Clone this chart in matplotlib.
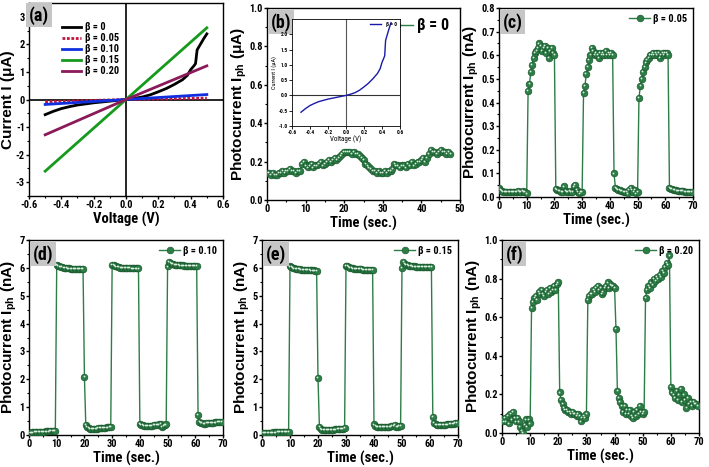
import numpy as np
import matplotlib
matplotlib.use('Agg')
import matplotlib.pyplot as plt
from matplotlib import font_manager
from matplotlib.transforms import offset_copy
from matplotlib.ticker import AutoMinorLocator

# the source figure uses a narrow bold sans; pick one if installed
names = {f.name for f in font_manager.fontManager.ttflist}
stretched = {f.name for f in font_manager.fontManager.ttflist
             if str(f.stretch) in ('condensed', 'semi-condensed', '75', '87')}
if 'Liberation Sans Narrow' in names:
    HFONT, STRETCH = 'Liberation Sans Narrow', 'normal'
elif 'Roboto Condensed' in names:
    HFONT, STRETCH = 'Roboto Condensed', 'normal'
elif 'DejaVu Sans' in stretched:
    HFONT, STRETCH = 'DejaVu Sans', 'condensed'
else:
    HFONT, STRETCH = 'Liberation Sans', 'normal'
NARROW = [HFONT, 'Liberation Sans', 'DejaVu Sans']
REG = ['Liberation Sans', 'DejaVu Sans']

plt.rcParams['font.family'] = NARROW
plt.rcParams['font.stretch'] = STRETCH
plt.rcParams['font.weight'] = 'bold'
plt.rcParams['axes.unicode_minus'] = False
plt.rcParams['mathtext.fontset'] = 'custom'
plt.rcParams['mathtext.rm'] = 'Liberation Sans:bold'
plt.rcParams['mathtext.bf'] = 'Liberation Sans:bold'
plt.rcParams['mathtext.default'] = 'bf'

# ---- (a) I-V curves ----
v_lin = [-0.5, 0.0, 0.5]
i_005 = [-0.08, 0.0, 0.05]
i_010 = [-0.18, 0.0, 0.18]
i_015 = [-2.6, 0.0, 2.6]
i_020 = [-1.28, 0.0, 1.22]

v_b0 = [-0.5, -0.45, -0.4, -0.35, -0.3, -0.25, -0.2, -0.15, -0.1, -0.05, 0.0,
        0.05, 0.1, 0.15, 0.2, 0.25, 0.3, 0.35, 0.38, 0.4, 0.42, 0.43, 0.44,
        0.46, 0.48, 0.5]
i_b0 = [-0.55, -0.43, -0.33, -0.26, -0.2, -0.16, -0.12, -0.09, -0.06, -0.03, 0.0,
        0.04, 0.09, 0.17, 0.28, 0.4, 0.55, 0.72, 0.88, 1.08, 1.22, 1.3, 1.8,
        2.0, 2.2, 2.38]

# ---- (b) beta = 0, sampled every 0.5 s ----
ph_b0 = [0.14, 0.14, 0.13, 0.14, 0.13, 0.13, 0.14, 0.14, 0.15, 0.14,
         0.15, 0.15, 0.16, 0.15, 0.15, 0.14, 0.15, 0.15,
         0.19, 0.2, 0.18, 0.17, 0.18, 0.19, 0.17, 0.18, 0.18, 0.19,
         0.2, 0.18, 0.19, 0.2, 0.21, 0.2, 0.21, 0.22, 0.21, 0.22,
         0.23, 0.24, 0.25, 0.25, 0.25, 0.25, 0.24, 0.25, 0.24, 0.24,
         0.23, 0.22, 0.21, 0.19, 0.18, 0.17, 0.16, 0.15, 0.15, 0.14,
         0.15, 0.14, 0.14, 0.15, 0.14, 0.15, 0.15, 0.16, 0.19, 0.18,
         0.18, 0.17, 0.18, 0.18, 0.17, 0.19, 0.18, 0.2, 0.18, 0.19,
         0.2, 0.2, 0.21, 0.22, 0.2, 0.22, 0.24, 0.26, 0.25, 0.25,
         0.24, 0.25, 0.26, 0.25, 0.25, 0.24, 0.25, 0.24]

# ---- (c)-(f) on/off cycles, sampled every 0.5 s from 0 to 69.5 s ----
ph_c = [0.04, 0.03, 0.025, 0.02, 0.02, 0.02, 0.02, 0.02, 0.02, 0.02,
        0.02, 0.02, 0.02, 0.02, 0.025, 0.02, 0.02, 0.025, 0.02, 0.02,
        0.015, 0.45, 0.48, 0.53, 0.56, 0.59, 0.61, 0.62, 0.63, 0.65,
        0.64, 0.62, 0.63, 0.64, 0.61, 0.63, 0.59, 0.62, 0.63, 0.61,
        0.6, 0.035, 0.03, 0.028, 0.025, 0.022, 0.02, 0.045, 0.025, 0.02,
        0.02, 0.025, 0.02, 0.02, 0.045, 0.05, 0.03, 0.02, 0.015, 0.02,
        0.02, 0.44, 0.47, 0.52, 0.55, 0.58, 0.6, 0.63, 0.62, 0.6,
        0.61, 0.6, 0.59, 0.61, 0.6, 0.61, 0.6, 0.62, 0.6, 0.61,
        0.6, 0.61, 0.6, 0.1, 0.04, 0.035, 0.03, 0.03, 0.025, 0.025,
        0.02, 0.02, 0.02, 0.015, 0.03, 0.04, 0.03, 0.02, 0.03, 0.015,
        0.02, 0.42, 0.47, 0.5, 0.53, 0.55, 0.57, 0.58, 0.59, 0.6,
        0.6, 0.61, 0.6, 0.61, 0.6, 0.61, 0.59, 0.6, 0.61, 0.6,
        0.61, 0.61, 0.6, 0.04, 0.035, 0.033, 0.03, 0.03, 0.028, 0.027,
        0.026, 0.025, 0.025, 0.024, 0.023, 0.022, 0.022, 0.021, 0.02, 0.02]

ph_d = [0.08, 0.08, 0.09, 0.09, 0.1, 0.1, 0.1, 0.11, 0.11, 0.12,
        0.12, 0.12, 0.13, 0.13, 0.13, 0.14, 0.14, 0.15, 0.15, 0.15,
        6.1, 6.08, 6.05, 6.03, 6.02, 6.0, 6.0, 5.99, 5.98, 5.98,
        5.97, 5.97, 5.96, 5.96, 5.96, 5.95, 5.95, 5.95, 5.95, 5.95,
        2.08, 0.35, 0.28, 0.25, 0.23, 0.22, 0.22, 0.22, 0.23, 0.23,
        0.24, 0.24, 0.25, 0.25, 0.26, 0.26, 0.27, 0.27, 0.28, 0.28,
        6.12, 6.1, 6.08, 6.05, 6.03, 6.02, 6.01, 6.0, 6.0, 6.0,
        6.0, 5.99, 5.99, 5.99, 5.98, 5.98, 5.98, 5.98, 5.98, 5.98,
        0.4, 0.37, 0.35, 0.34, 0.33, 0.33, 0.33, 0.34, 0.34, 0.34,
        0.35, 0.35, 0.36, 0.37, 0.38, 0.4, 0.3, 0.32, 0.36, 0.38,
        6.05, 6.22, 6.18, 6.15, 6.13, 6.12, 6.11, 6.1, 6.1, 6.09,
        6.09, 6.09, 6.08, 6.08, 6.08, 6.08, 6.07, 6.07, 6.07, 6.07,
        6.07, 6.07, 0.72, 0.48, 0.44, 0.42, 0.41, 0.41, 0.42, 0.42,
        0.43, 0.43, 0.44, 0.44, 0.45, 0.45, 0.46, 0.47, 0.47, 0.48]

ph_e = [0.06, 0.06, 0.07, 0.07, 0.07, 0.08, 0.08, 0.08, 0.09, 0.09,
        0.09, 0.1, 0.1, 0.1, 0.1, 0.11, 0.11, 0.11, 0.12, 0.12,
        6.05, 6.03, 6.0, 5.98, 5.97, 5.96, 5.95, 5.95, 5.94, 5.94,
        5.93, 5.93, 5.92, 5.92, 5.92, 5.91, 5.91, 5.91, 5.9, 5.9,
        2.05, 0.3, 0.22, 0.18, 0.17, 0.17, 0.17, 0.17, 0.18, 0.18,
        0.19, 0.19, 0.2, 0.2, 0.21, 0.21, 0.22, 0.22, 0.23, 0.24,
        6.08, 6.06, 6.03, 6.0, 5.99, 5.98, 5.97, 5.96, 5.96, 5.95,
        5.95, 5.95, 5.94, 5.94, 5.94, 5.94, 5.93, 5.93, 5.93, 5.93,
        0.38, 0.33, 0.3, 0.29, 0.28, 0.28, 0.28, 0.29, 0.29, 0.29,
        0.3, 0.3, 0.31, 0.32, 0.33, 0.35, 0.28, 0.3, 0.32, 0.34,
        6.0, 6.2, 6.15, 6.12, 6.1, 6.08, 6.07, 6.06, 6.05, 6.05,
        6.04, 6.04, 6.03, 6.03, 6.03, 6.02, 6.02, 6.02, 6.02, 6.02,
        6.02, 6.02, 0.66, 0.42, 0.38, 0.36, 0.35, 0.35, 0.36, 0.36,
        0.37, 0.37, 0.38, 0.38, 0.39, 0.4, 0.4, 0.41, 0.42, 0.42]

ph_f = [0.07, 0.06, 0.08, 0.06, 0.09, 0.05, 0.1, 0.07, 0.11, 0.08,
        0.06, 0.08, 0.06, 0.03, 0.01, 0.0, 0.04, 0.07, 0.03, 0.07,
        0.05, 0.65, 0.68, 0.7, 0.71, 0.69, 0.73, 0.72, 0.74, 0.72,
        0.71, 0.73, 0.74, 0.72, 0.75, 0.73, 0.74, 0.76, 0.74, 0.77,
        0.78, 0.21, 0.17, 0.15, 0.13, 0.12, 0.12, 0.11, 0.11, 0.1,
        0.11, 0.1, 0.1, 0.09, 0.1, 0.09, 0.06, 0.08, 0.09, 0.08,
        0.1, 0.69, 0.71, 0.72, 0.72, 0.74, 0.73, 0.75, 0.76, 0.74,
        0.75, 0.72, 0.73, 0.75, 0.76, 0.78, 0.75, 0.77, 0.76, 0.76,
        0.75, 0.54, 0.22, 0.18, 0.16, 0.14, 0.11, 0.14, 0.1, 0.12,
        0.1, 0.12, 0.09, 0.08, 0.11, 0.09, 0.12, 0.1, 0.14, 0.11,
        0.1, 0.11, 0.7, 0.74, 0.76, 0.75, 0.78, 0.77, 0.8, 0.79,
        0.81, 0.8, 0.82, 0.81, 0.84, 0.83, 0.86, 0.88, 0.87, 0.92,
        0.24, 0.21, 0.2, 0.18, 0.22, 0.17, 0.2, 0.23, 0.16, 0.2,
        0.17, 0.13, 0.18, 0.15, 0.16, 0.14, 0.16, 0.15, 0.15, 0.14]

dt = 0.5
GREEN = '#2d7d47'
DARK = '#1b5a2e'
LIGHT = '#d8eedf'

W, H = 709, 467
fig = plt.figure(figsize=(W / 100, H / 100), dpi=100)


def box(l, r, t, b):
    return [l / W, 1 - b / H, (r - l) / W, (b - t) / H]


def style(ax, xlab, ylab, ysize=11):
    hpx = ax.get_position().height * H
    for s in ax.spines.values():
        s.set_linewidth(1.0)
    ax.xaxis.set_minor_locator(AutoMinorLocator(2))
    ax.yaxis.set_minor_locator(AutoMinorLocator(2))
    ax.tick_params(which='major', direction='out', length=2.2, width=1,
                   labelsize=7.5, pad=0.8)
    ax.tick_params(which='minor', direction='out', length=1.4, width=0.8)
    for lab in ax.get_xticklabels() + ax.get_yticklabels():
        lab.set_fontweight('bold')
    ax.set_xlabel(xlab, fontsize=10.5, fontweight='bold')
    ax.xaxis.set_label_coords(0.5, -16 / hpx)
    ax.set_ylabel(ylab, fontsize=ysize, fontweight='bold', family=REG,
                  stretch='normal', labelpad=0.5)


def tag(ax, s, x=0.02, y=0.975):
    ax.text(x, y, s, transform=ax.transAxes, ha='left', va='top',
            fontsize=13, fontweight='bold',
            bbox=dict(boxstyle='square,pad=0.15', fc='#c6c6c6', ec='none'))


def photo(ax, vals, label, big=False):
    t = dt * np.arange(len(vals))
    ax.plot(t, vals, '-', color=GREEN, lw=1.0, marker='o', ms=4.8,
            mfc=GREEN, mec=DARK, mew=0.5, label=label, zorder=3)
    hl = offset_copy(ax.transData, fig=fig, x=-0.6, y=0.6, units='points')
    ax.plot(t, vals, 'o', ms=1.3, color=LIGHT, mew=0, zorder=4, transform=hl)
    size = 11.5 if big else 7.5
    ax.legend(loc='upper right', frameon=False, handlelength=2.0,
              borderaxespad=0.25 if big else 0.15, handletextpad=0.3,
              prop={'weight': 'bold', 'size': size, 'family': NARROW,
                    'stretch': STRETCH})


# (a)
ax = fig.add_axes(box(29, 223, 3, 196))
ax.axhline(0, color='black', lw=1.2, zorder=1)
ax.axvline(0, color='black', lw=1.2, zorder=1)
ax.plot(v_b0, i_b0, color='black', lw=2, label='β = 0')
ax.plot(v_lin, i_005, color='#c0143c', lw=2, ls=(0, (1, 0.6)), label='β = 0.05')
ax.plot(v_lin, i_010, color='#1030e0', lw=2, label='β = 0.10')
ax.plot(v_lin, i_015, color='#159a1c', lw=2, label='β = 0.15')
ax.plot(v_lin, i_020, color='#8a1a5a', lw=2, label='β = 0.20')
ax.set_xlim(-0.6, 0.6)
ax.set_ylim(-3.5, 3.5)
ax.set_xticks([-0.6, -0.4, -0.2, 0.0, 0.2, 0.4, 0.6])
ax.set_yticks([-3, -2, -1, 0, 1, 2, 3])
ax.legend(loc='upper left', bbox_to_anchor=(0.17, 0.9), frameon=False,
          handlelength=1.8, handletextpad=0.4, labelspacing=0.1,
          borderaxespad=0, borderpad=0,
          prop={'weight': 'bold', 'size': 7.5, 'family': NARROW,
                'stretch': STRETCH})
tag(ax, '(a)', 0.0, 0.985)
style(ax, 'Voltage (V)', 'Current I (μA)', ysize=11)

# (b)
ax = fig.add_axes(box(267, 460, 8, 200))
photo(ax, ph_b0, 'β = 0', big=True)
ax.set_xlim(0, 50)
ax.set_ylim(0, 1.0)
ax.set_xticks([0, 10, 20, 30, 40, 50])
ax.set_yticks([0.0, 0.2, 0.4, 0.6, 0.8, 1.0])
tag(ax, '(b)')
style(ax, 'Time (sec.)', r'Photocurrent I$_{ph}$ (μA)')

ins = fig.add_axes(box(292, 400, 19, 126))
ins.axhline(0, color='#333333', lw=0.8)
ins.axvline(0, color='#555555', lw=0.8)
ins.plot(v_b0, i_b0, color='#1a1aa8', lw=1.0, label='β = 0')
ins.set_xlim(-0.6, 0.6)
ins.set_ylim(-1.0, 2.5)
ins.set_xticks([-0.6, -0.4, -0.2, 0.0, 0.2, 0.4, 0.6])
ins.set_yticks([-1.0, -0.5, 0.0, 0.5, 1.0, 1.5, 2.0])
ins.tick_params(direction='out', length=2, width=0.6, labelsize=4, pad=1)
for s in ins.spines.values():
    s.set_linewidth(0.6)
ins.set_xlabel('Voltage (V)', fontsize=5, labelpad=0)
ins.set_ylabel('Current I (μA)', fontsize=4.5, labelpad=1)
ins.legend(loc='upper right', frameon=False, handlelength=2, borderaxespad=0.2,
           prop={'size': 4})

# (c)
ax = fig.add_axes(box(499, 693, 8, 197))
photo(ax, ph_c, 'β = 0.05')
ax.set_xlim(0, 70)
ax.set_ylim(0, 0.8)
ax.set_xticks(range(0, 71, 10))
ax.set_yticks([0.0, 0.1, 0.2, 0.3, 0.4, 0.5, 0.6, 0.7, 0.8])
tag(ax, '(c)')
style(ax, 'Time (sec.)', r'Photocurrent I$_{ph}$ (nA)')

# (d)
ax = fig.add_axes(box(29, 223, 240, 435))
photo(ax, ph_d, 'β = 0.10')
ax.set_xlim(0, 70)
ax.set_ylim(0, 7)
ax.set_xticks(range(0, 71, 10))
ax.set_yticks(range(0, 8))
tag(ax, '(d)')
style(ax, 'Time (sec.)', r'Photocurrent I$_{ph}$ (nA)')

# (e)
ax = fig.add_axes(box(262, 458, 240, 435))
photo(ax, ph_e, 'β = 0.15')
ax.set_xlim(0, 70)
ax.set_ylim(0, 7)
ax.set_xticks(range(0, 71, 10))
ax.set_yticks(range(0, 8))
tag(ax, '(e)')
style(ax, 'Time (sec.)', r'Photocurrent I$_{ph}$ (nA)')

# (f)
ax = fig.add_axes(box(502, 699, 240, 433))
photo(ax, ph_f, 'β = 0.20')
ax.set_xlim(0, 70)
ax.set_ylim(0, 1.0)
ax.set_xticks(range(0, 71, 10))
ax.set_yticks([0.0, 0.2, 0.4, 0.6, 0.8, 1.0])
tag(ax, '(f)')
style(ax, 'Time (sec.)', r'Photocurrent I$_{ph}$ (nA)')

fig.savefig('out.png', dpi=100)
